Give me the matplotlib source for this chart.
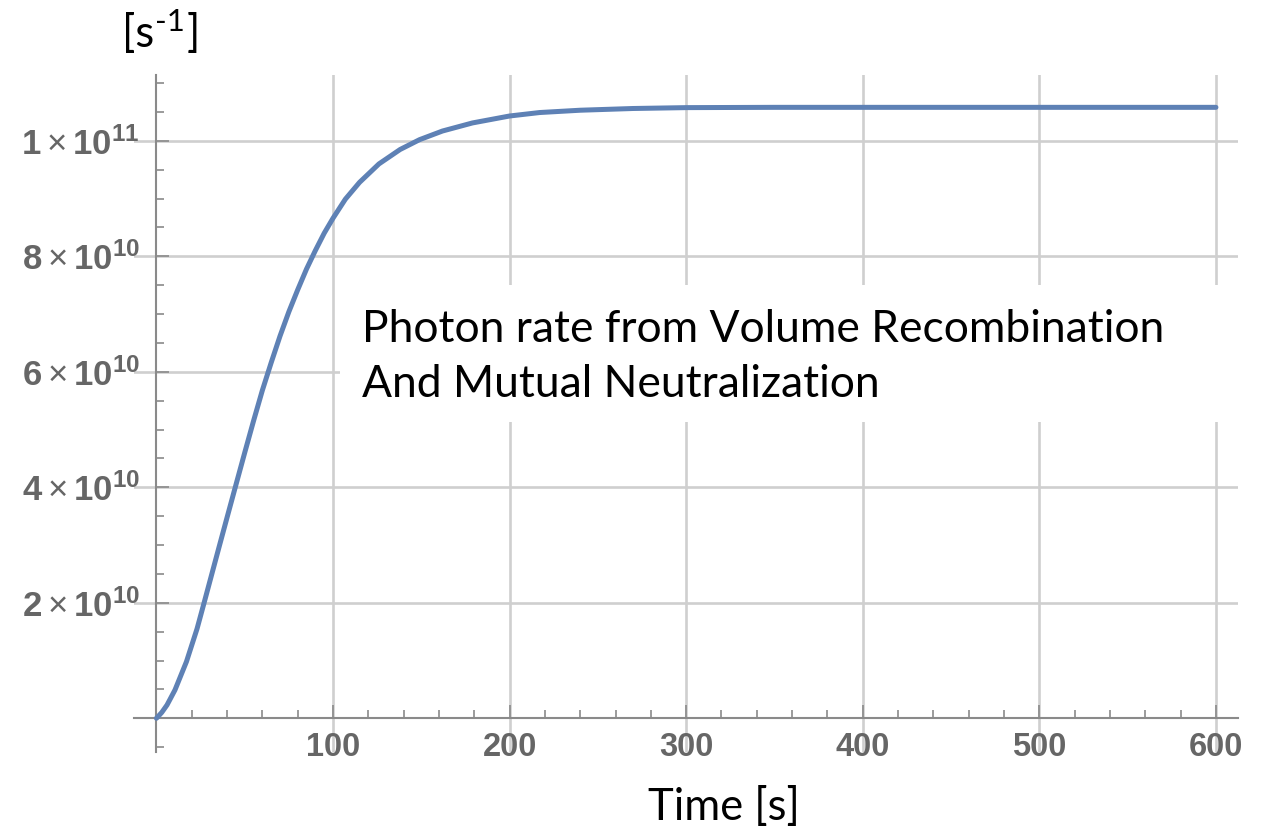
import matplotlib
matplotlib.use('Agg')
import matplotlib.pyplot as plt
from matplotlib.ticker import FixedLocator
from matplotlib.patches import Rectangle

# ---- data ----
time_s = [0, 3, 6, 10.5, 17, 23, 27, 31.3, 35.6, 40.2, 45, 50, 55, 60, 65, 70,
          75, 80, 85, 90, 95, 100, 107, 115, 126, 138, 149, 162, 179, 200, 217,
          240, 270, 300, 350, 400, 500, 600]
rate_1e10 = [0, 0.1, 0.23, 0.49, 0.98, 1.55, 2.0, 2.49, 2.98, 3.5, 4.04, 4.6,
             5.15, 5.68, 6.16, 6.62, 7.04, 7.42, 7.78, 8.10, 8.40, 8.66, 8.99,
             9.28, 9.60, 9.85, 10.02, 10.17, 10.31, 10.43, 10.49, 10.53, 10.56,
             10.575, 10.58, 10.58, 10.58, 10.58]
rate = [v * 1e10 for v in rate_1e10]

x_major = [100, 200, 300, 400, 500, 600]
x_labels = ["100", "200", "300", "400", "500", "600"]
y_major = [2e10, 4e10, 6e10, 8e10, 1e11]
y_labels = [r"$\mathbf{2}\times\mathbf{10}^{\mathbf{10}}$",
            r"$\mathbf{4}\times\mathbf{10}^{\mathbf{10}}$",
            r"$\mathbf{6}\times\mathbf{10}^{\mathbf{10}}$",
            r"$\mathbf{8}\times\mathbf{10}^{\mathbf{10}}$",
            r"$\mathbf{1}\times\mathbf{10}^{\mathbf{11}}$"]
x_minor = [v for v in range(20, 620, 20) if v % 100 != 0]
y_minor = [v * 1e9 for v in range(-5, 115, 5) if v % 20 != 0 and v != 0]

annot_lines = ["Photon rate from Volume Recombination", "And Mutual Neutralization"]
xlabel = "Time [s]"

# ---- style ----
plt.rcParams['mathtext.fontset'] = 'custom'
plt.rcParams['mathtext.bf'] = 'Liberation Sans:bold'
plt.rcParams['mathtext.rm'] = 'Liberation Sans'
plt.rcParams['mathtext.it'] = 'Liberation Sans:italic'

W, H = 1266, 830
fig = plt.figure(figsize=(W / 100, H / 100), dpi=100)
ax = fig.add_axes([134 / W, 1 - 752 / H, (1238 - 134) / W, (752 - 75) / H])
ax.set_xlim(-12.7, 612.5)
ax.set_ylim(-5.84e9, 1.114e11)

axis_col = '#8a8a8a'
grid_col = '#cfcfcf'
lab_col = '#666666'

for s in ['top', 'right']:
    ax.spines[s].set_visible(False)
for s in ['left', 'bottom']:
    ax.spines[s].set_position(('data', 0))
    ax.spines[s].set_color(axis_col)
    ax.spines[s].set_linewidth(1.5)

for xv in x_major:
    ax.axvline(xv, color=grid_col, lw=1.9, zorder=0.5)
for yv in y_major:
    ax.axhline(yv, color=grid_col, lw=1.9, zorder=0.5)

ax.xaxis.set_major_locator(FixedLocator(x_major))
ax.xaxis.set_minor_locator(FixedLocator(x_minor))
ax.yaxis.set_major_locator(FixedLocator(y_major))
ax.yaxis.set_minor_locator(FixedLocator(y_minor))
ax.set_xticklabels(x_labels)
ax.set_yticklabels(y_labels)

ax.tick_params(which='both', direction='in', color=axis_col, width=1.2)
ax.tick_params(which='major', length=9.5)
ax.tick_params(which='minor', length=6)
ax.tick_params(axis='x', which='major', labelsize=23.5, labelcolor=lab_col, pad=10)
ax.tick_params(axis='y', which='major', labelsize=25, labelcolor=lab_col, pad=12)
for lbl in ax.get_xticklabels():
    lbl.set_fontfamily('Liberation Sans')
    lbl.set_fontweight('bold')

# white box behind the annotation
ax.add_patch(Rectangle((340 / W, 1 - 422 / H), (1240 - 340) / W, (422 - 285) / H,
                       transform=fig.transFigure, facecolor='white',
                       edgecolor='none', zorder=1))

ax.plot(time_s, rate, color='#5E81B5', lw=3.6, zorder=3,
        solid_capstyle='round', solid_joinstyle='round')

renderer = fig.canvas.get_renderer()


def fit(t, target_px):
    w = t.get_window_extent(renderer).width
    t.set_fontsize(t.get_fontsize() * target_px / w)


FONT = 'Lato'
# annotation lines
t1 = fig.text(362 / W, 1 - 342 / H, annot_lines[0], family=FONT, fontsize=30,
              va='baseline', ha='left', color='black')
fit(t1, 802)
t2 = fig.text(362 / W, 1 - 397 / H, annot_lines[1], family=FONT,
              fontsize=t1.get_fontsize(), va='baseline', ha='left', color='black')

# x axis title
tx = fig.text(724 / W, 1 - 820 / H, xlabel, family=FONT, fontsize=32,
              va='baseline', ha='center', color='black')
fit(tx, 152)
fs_big = tx.get_fontsize()

# y unit "[s^-1]"
ta = fig.text(122 / W, 1 - 47 / H, "[s", family=FONT, fontsize=fs_big,
              va='baseline', ha='left', color='black')
bb = ta.get_window_extent(renderer)
tb = fig.text((bb.x1 + 1) / W, 1 - 31 / H, "-1", family=FONT,
              fontsize=fs_big * 0.72, va='baseline', ha='left', color='black')
bb2 = tb.get_window_extent(renderer)
tc = fig.text((bb2.x1 + 1) / W, 1 - 47 / H, "]", family=FONT, fontsize=fs_big,
              va='baseline', ha='left', color='black')

fig.savefig('out.png', dpi=100, facecolor='white')
